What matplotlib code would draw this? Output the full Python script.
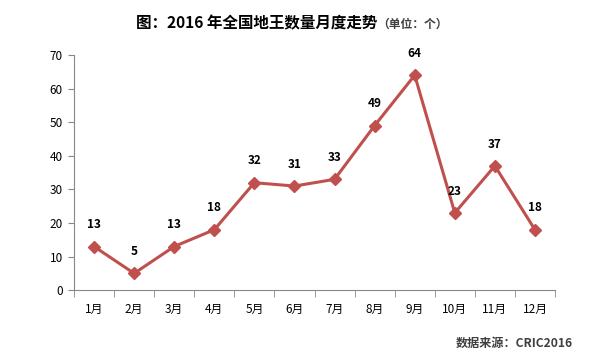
import matplotlib.pyplot as plt
import numpy as np

plt.rcParams['font.family'] = ['Noto Sans CJK SC', 'DejaVu Sans']

months = ["1月", "2月", "3月", "4月", "5月", "6月", "7月", "8月", "9月", "10月", "11月", "12月"]
counts = [13, 5, 13, 18, 32, 31, 33, 49, 64, 23, 37, 18]

fig = plt.figure(figsize=(5.92, 3.53), dpi=100)
ax = fig.add_axes([0.125, 0.178, 0.8125, 0.666])

x = np.arange(len(months))
ax.plot(x, counts, color="#C0504D", linewidth=2.2, marker="D", markersize=6.5,
        markerfacecolor="#C0504D", markeredgecolor="#C0504D")
for xi, v in zip(x, counts):
    ax.annotate(str(v), (xi, v), textcoords="offset points", xytext=(0, 11),
                ha="center", va="bottom", fontsize=8.5, fontweight="bold", color="black")

ax.set_xlim(-0.5, len(months) - 0.5)
ax.set_ylim(0, 70)
ax.set_yticks(range(0, 71, 10))
ax.tick_params(axis="y", labelsize=8.5, length=4, color="#888888", pad=4)
ax.set_xticks(x)
ax.set_xticklabels(months, fontsize=8.5)
ax.tick_params(axis="x", length=0, pad=9)
ax.set_xticks(np.arange(-0.5, len(months), 1), minor=True)
ax.tick_params(axis="x", which="minor", length=5, color="#888888")
for s in ["top", "right"]:
    ax.spines[s].set_visible(False)
for s in ["left", "bottom"]:
    ax.spines[s].set_color("#888888")

# 标题 + 单位
fig.text(0.637, 0.935, "图：2016 年全国地王数量月度走势", ha="right", va="center",
         fontsize=11.2, fontweight="bold")
fig.text(0.638, 0.932, "（单位：个）", ha="left", va="center", fontsize=8.5,
         fontweight="bold", color="#404040")
fig.text(0.967, 0.028, "数据来源：CRIC2016", ha="right", va="center", fontsize=8.7,
         fontweight="bold", color="#404040")

fig.savefig("out.png", dpi=100)
